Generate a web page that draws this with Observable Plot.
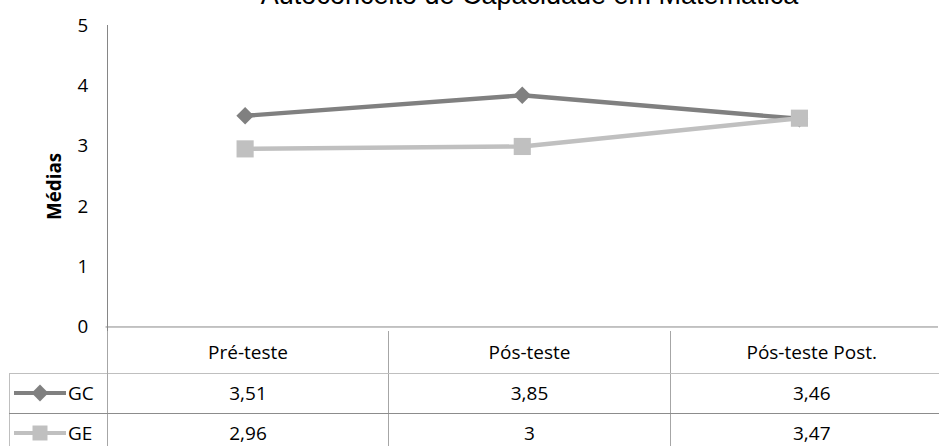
<!DOCTYPE html>
<html>
<head>
<meta charset="utf-8">
<script src="https://cdn.jsdelivr.net/npm/d3@7"></script>
<script src="https://cdn.jsdelivr.net/npm/@observablehq/plot@0.6"></script>
<style>
  html, body { margin: 0; padding: 0; background: #fff; }
  #wrap { position: relative; width: 939px; height: 446px; overflow: hidden; background: #fff; }
  #wrap svg.plot { position: absolute; left: 0; top: 0; }
  #title { position: absolute; left: 107px; width: 845px; top: -18px; text-align: center;
           font-family: "Liberation Sans", Arial, sans-serif; font-size: 27px; line-height: 27px; color: #000; white-space: nowrap; }
  #yline { position: absolute; left: 107px; top: 25px; width: 1px; height: 306px; background: #868686; }
  table { position: absolute; left: 9px; top: 331px; border-collapse: collapse; table-layout: fixed;
          font-family: "Open Sans", sans-serif; font-size: 19px; color: #000; }
  td { padding: 0; text-align: center; vertical-align: middle; overflow: hidden; white-space: nowrap; }
  .leg { display: flex; align-items: center; justify-content: flex-start; }
  .leg svg { display: block; margin-left: 3px; margin-right: 1px; }
</style>
</head>
<body>
<div id="wrap">
  <div id="title"></div>
  <div id="yline"></div>
</div>
<script>
const chartTitle = "Autoconceito de Capacidade em Matemática";
const yLabel = "Médias";
const categories = ["Pré-teste", "Pós-teste", "Pós-teste Post."];
const seriesNames = ["GC", "GE"];
const gcValues = [3.51, 3.85, 3.46];
const geValues = [2.96, 3, 3.47];
const yTicks = [0, 1, 2, 3, 4, 5];
const seriesColors = ["#808080", "#c0c0c0"];
const seriesSymbols = ["diamond2", "square"];

const seriesValues = [gcValues, geValues];
const data = seriesNames.flatMap((s, i) =>
  categories.map((c, j) => ({series: s, cat: c, value: seriesValues[i][j]})));

const lineMarks = seriesNames.flatMap((s, i) => {
  const d = data.filter(r => r.series === s);
  return [
    Plot.line(d, {x: "cat", y: "value", stroke: seriesColors[i], strokeWidth: 4.5}),
    Plot.dot(d, {x: "cat", y: "value", fill: seriesColors[i], stroke: "none",
                 symbol: () => seriesSymbols[i], r: i === 0 ? 8 : 9.8})
  ];
});

const chart = Plot.plot({
  width: 952,
  height: 446,
  marginLeft: 107,
  marginRight: 1,
  marginTop: 26,
  marginBottom: 115,
  style: {fontFamily: "'Open Sans', sans-serif", fontSize: "19px", color: "#000", background: "transparent"},
  x: {type: "point", domain: categories, padding: 0.5, axis: null},
  y: {domain: [0, 5], axis: null},
  marks: [
    Plot.axisY({ticks: yTicks, tickSize: 0, tickPadding: 18, label: null, tickFormat: d => String(d), fontSize: 19}),
    Plot.ruleY([0], {stroke: "#868686", strokeWidth: 1}),
    Plot.text([yLabel], {frameAnchor: "left", textAnchor: "middle", rotate: -90, dx: -52, dy: 10, fontWeight: "bold", fontSize: 19, fill: "#000"}),
    ...lineMarks
  ]
});
chart.classList.add("plot");
const wrap = document.getElementById("wrap");
wrap.insertBefore(chart, wrap.firstChild);
document.getElementById("title").textContent = chartTitle;

// data table below the plot
const fmt = v => String(v).replace(".", ",");
const table = document.createElement("table");
const colgroup = document.createElement("colgroup");
[98, 281, 282, 282].forEach(w => { const c = document.createElement("col"); c.style.width = w + "px"; colgroup.appendChild(c); });
table.appendChild(colgroup);
table.style.width = "943px";

const vLine = "1px solid #a6a6a6";
const tr0 = document.createElement("tr");
tr0.style.height = "42px";
const e0 = document.createElement("td");
e0.style.borderRight = vLine;
e0.style.borderBottom = "none";
tr0.appendChild(e0);
categories.forEach((c, j) => {
  const td = document.createElement("td");
  td.textContent = c;
  td.style.borderBottom = "1px solid #bfbfbf";
  if (j < categories.length - 1) td.style.borderRight = vLine;
  tr0.appendChild(td);
});
table.appendChild(tr0);

seriesNames.forEach((s, i) => {
  const tr = document.createElement("tr");
  tr.style.height = "40px";
  const lc = document.createElement("td");
  lc.style.borderLeft = "1px solid #bfbfbf";
  lc.style.borderRight = vLine;
  lc.style.borderTop = "1px solid #bfbfbf";
  if (i === 0) lc.style.borderBottom = "1px solid #8c8c8c";
  const div = document.createElement("div");
  div.className = "leg";
  const ns = "http://www.w3.org/2000/svg";
  const icon = document.createElementNS(ns, "svg");
  icon.setAttribute("width", 54); icon.setAttribute("height", 20);
  const ln = document.createElementNS(ns, "line");
  ln.setAttribute("x1", 1); ln.setAttribute("x2", 53); ln.setAttribute("y1", 10); ln.setAttribute("y2", 10);
  ln.setAttribute("stroke", seriesColors[i]); ln.setAttribute("stroke-width", 4);
  icon.appendChild(ln);
  const sym = d3.symbol(i === 0 ? d3.symbolDiamond2 : d3.symbolSquare, i === 0 ? 180 : 225)();
  const p = document.createElementNS(ns, "path");
  p.setAttribute("d", sym); p.setAttribute("transform", "translate(27,10)");
  p.setAttribute("fill", seriesColors[i]);
  icon.appendChild(p);
  div.appendChild(icon);
  const t = document.createElement("span");
  t.textContent = s;
  div.appendChild(t);
  lc.appendChild(div);
  tr.appendChild(lc);
  seriesValues[i].forEach((v, j) => {
    const td = document.createElement("td");
    td.textContent = fmt(v);
    if (i === 0) td.style.borderBottom = "1px solid #8c8c8c";
    if (j < categories.length - 1) td.style.borderRight = vLine;
    tr.appendChild(td);
  });
  table.appendChild(tr);
});
wrap.appendChild(table);
</script>
</body>
</html>
